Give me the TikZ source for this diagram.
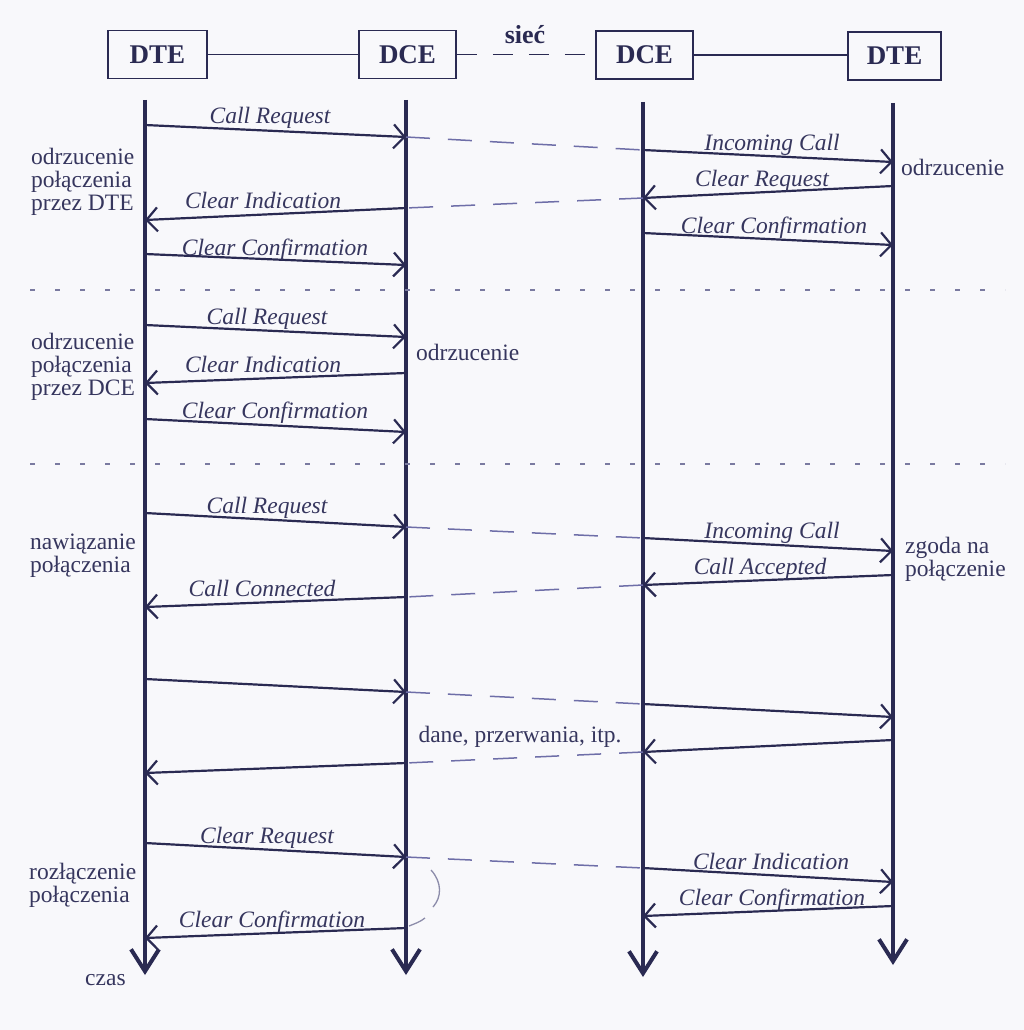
\documentclass[tikz,border=0pt]{standalone}
\usepackage{fontspec}
\setmainfont{Liberation Serif}
\usetikzlibrary{arrows.meta}

\definecolor{ink}{HTML}{2A2A52}
\definecolor{txt}{HTML}{36365E}
\definecolor{net}{HTML}{6E6EA8}
\definecolor{paper}{HTML}{F8F8FB}
\definecolor{sep}{HTML}{7A7AA0}
\definecolor{brace}{HTML}{8C8CAA}

\tikzset{
  station/.style={draw=ink, line width=1.8pt, minimum width=97pt, minimum height=48pt,
    inner sep=0pt, font=\fontsize{27}{27}\selectfont\bfseries, text=ink},
  link/.style={draw=ink, line width=1.4pt},
  netlink/.style={draw=ink, line width=1.4pt, dash pattern=on 20pt off 16pt},
  lifeline/.style={draw=ink, line width=4pt, -{Straight Barb[length=22pt,width=28pt,line width=4pt]}},
  msg/.style={draw=ink, line width=2.2pt, -{Straight Barb[length=11pt,width=24pt,line width=2.2pt]}},
  relay/.style={draw=net, line width=1.5pt, dash pattern=on 24pt off 18pt},
  lbl/.style={font=\fontsize{23.5}{23.5}\selectfont\itshape, text=txt, anchor=base, inner sep=0pt},
  note/.style={font=\fontsize{23.5}{23.5}\selectfont, text=txt, anchor=base west, inner sep=0pt},
  title/.style={font=\fontsize{26}{26}\selectfont\bfseries, text=ink, anchor=base, inner sep=0pt},
  divider/.style={draw=sep, line width=1.5pt, dash pattern=on 5pt off 20pt},
}

\begin{document}
\begin{tikzpicture}[x=1pt,y=-1pt]
\fill[paper] (0,0) rectangle (1024,1030);
\useasboundingbox (0,0) rectangle (1024,1030);

% stations
\node[station, minimum width=99pt] (dteA) at (157.5,54.5) {DTE};
\node[station] (dceA) at (407.5,54.5) {DCE};
\node[station] (dceB) at (644.5,55) {DCE};
\node[station, minimum width=93pt] (dteB) at (894.5,56) {DTE};
\node[title] (siec) at (525,44) {sieć};

\draw[link] (dteA.east) -- (dteA.east -| dceA.west);
\draw[netlink] (dceA.east) -- (dceA.east -| dceB.west);
\draw[link] (dceB.east) -- (dceB.east -| dteB.west);

% time axes
\coordinate (tA0) at (145,100);  \coordinate (tA1) at (145,975);
\coordinate (tB0) at (406,100);  \coordinate (tB1) at (406,975);
\coordinate (tC0) at (643,102);  \coordinate (tC1) at (643,977);
\coordinate (tD0) at (893,103);  \coordinate (tD1) at (893,965);
\draw[lifeline] (tA0) -- (tA1);
\draw[lifeline] (tB0) -- (tB1);
\draw[lifeline] (tC0) -- (tC1);
\draw[lifeline] (tD0) -- (tD1);
\node[note] (czas) at (85,985) {czas};

% section dividers
\coordinate (s1a) at (30,290);  \coordinate (s1b) at (1005,290);
\coordinate (s2a) at (30,464);  \coordinate (s2b) at (1005,464);
\draw[divider] (s1a) -- (s1b);
\draw[divider] (s2a) -- (s2b);

% --- rejection by the called DTE
\coordinate (cr1s) at (145,125); \coordinate (cr1e) at (406,137);
\coordinate (ic1s) at (643,150); \coordinate (ic1e) at (893,162);
\coordinate (cq1s) at (893,186); \coordinate (cq1e) at (643,198);
\coordinate (ci1s) at (406,208); \coordinate (ci1e) at (145,220);
\coordinate (cc1s) at (145,254); \coordinate (cc1e) at (406,265);
\coordinate (cc2s) at (643,233); \coordinate (cc2e) at (893,245);
\draw[msg] (cr1s) -- (cr1e);
\draw[relay] (cr1e) -- (ic1s);
\draw[msg] (ic1s) -- (ic1e);
\draw[msg] (cq1s) -- (cq1e);
\draw[relay] (cq1e) -- (ci1s);
\draw[msg] (ci1s) -- (ci1e);
\draw[msg] (cc1s) -- (cc1e);
\draw[msg] (cc2s) -- (cc2e);
\node[lbl] (l1) at (270,124) {Call Request};
\node[lbl] (l2) at (772,150) {Incoming Call};
\node[lbl] (l3) at (762,186) {Clear Request};
\node[lbl] (l4) at (263,208) {Clear Indication};
\node[lbl] (l5) at (275,255) {Clear Confirmation};
\node[lbl] (l6) at (774,233) {Clear Confirmation};
\node[note] (n1) at (901,175) {odrzucenie};
\node[note] (n2) at (31,164) {odrzucenie};
\node[note] (n3) at (31,187) {połączenia};
\node[note] (n4) at (31,210) {przez DTE};

% --- rejection by the DCE
\coordinate (cr2s) at (145,325); \coordinate (cr2e) at (406,337);
\coordinate (ci2s) at (406,373); \coordinate (ci2e) at (145,383);
\coordinate (cc3s) at (145,419); \coordinate (cc3e) at (406,432);
\draw[msg] (cr2s) -- (cr2e);
\draw[msg] (ci2s) -- (ci2e);
\draw[msg] (cc3s) -- (cc3e);
\node[lbl] (l7) at (267,324) {Call Request};
\node[lbl] (l8) at (263,372) {Clear Indication};
\node[lbl] (l9) at (275,418) {Clear Confirmation};
\node[note] (n5) at (416,360) {odrzucenie};
\node[note] (n6) at (31,349) {odrzucenie};
\node[note] (n7) at (31,372) {połączenia};
\node[note] (n8) at (31,395) {przez DCE};

% --- call set-up
\coordinate (cr3s) at (145,513); \coordinate (cr3e) at (406,527);
\coordinate (ic2s) at (643,538); \coordinate (ic2e) at (893,551);
\coordinate (ca1s) at (893,575); \coordinate (ca1e) at (643,585);
\coordinate (cn1s) at (406,597); \coordinate (cn1e) at (145,607);
\draw[msg] (cr3s) -- (cr3e);
\draw[relay] (cr3e) -- (ic2s);
\draw[msg] (ic2s) -- (ic2e);
\draw[msg] (ca1s) -- (ca1e);
\draw[relay] (ca1e) -- (cn1s);
\draw[msg] (cn1s) -- (cn1e);
\node[lbl] (l10) at (267,513) {Call Request};
\node[lbl] (l11) at (772,538) {Incoming Call};
\node[lbl] (l12) at (760,574) {Call Accepted};
\node[lbl] (l13) at (262,596) {Call Connected};
\node[note] (n9) at (905,553) {zgoda na};
\node[note] (n10) at (905,576) {połączenie};
\node[note] (n11) at (30,549) {nawiązanie};
\node[note] (n12) at (30,572) {połączenia};

% --- data transfer
\coordinate (d1s) at (145,679); \coordinate (d1e) at (406,692);
\coordinate (d2s) at (643,704); \coordinate (d2e) at (893,717);
\coordinate (d3s) at (893,740); \coordinate (d3e) at (643,752);
\coordinate (d4s) at (406,763); \coordinate (d4e) at (145,773);
\draw[msg] (d1s) -- (d1e);
\draw[relay] (d1e) -- (d2s);
\draw[msg] (d2s) -- (d2e);
\draw[msg] (d3s) -- (d3e);
\draw[relay] (d3e) -- (d4s);
\draw[msg] (d4s) -- (d4e);
\node[note, anchor=base] (n13) at (520,742) {dane, przerwania, itp.};

% --- clearing
\coordinate (cq2s) at (145,843); \coordinate (cq2e) at (406,857);
\coordinate (ci3s) at (643,868); \coordinate (ci3e) at (893,882);
\coordinate (cc4s) at (893,906); \coordinate (cc4e) at (643,916);
\coordinate (cc5s) at (406,928); \coordinate (cc5e) at (145,938);
\draw[msg] (cq2s) -- (cq2e);
\draw[relay] (cq2e) -- (ci3s);
\draw[msg] (ci3s) -- (ci3e);
\draw[msg] (cc4s) -- (cc4e);
\draw[msg] (cc5s) -- (cc5e);
\node[lbl] (l14) at (267,843) {Clear Request};
\node[lbl] (l15) at (771,869) {Clear Indication};
\node[lbl] (l16) at (772,905) {Clear Confirmation};
\node[lbl] (l17) at (272,927) {Clear Confirmation};
\node[note] (n14) at (29,879) {rozłączenie};
\node[note] (n15) at (29,902) {połączenia};

% interval mark at the local DCE
\coordinate (b1) at (431,870); \coordinate (b2) at (433,907);
\coordinate (b3) at (425,918); \coordinate (b4) at (409,926);
\draw[brace, line width=1.3pt] (b1) .. controls (442,882) and (442,897) .. (b2);
\draw[brace, line width=1.3pt] (b3) .. controls (420,922) and (414,924) .. (b4);
\end{tikzpicture}
\end{document}
